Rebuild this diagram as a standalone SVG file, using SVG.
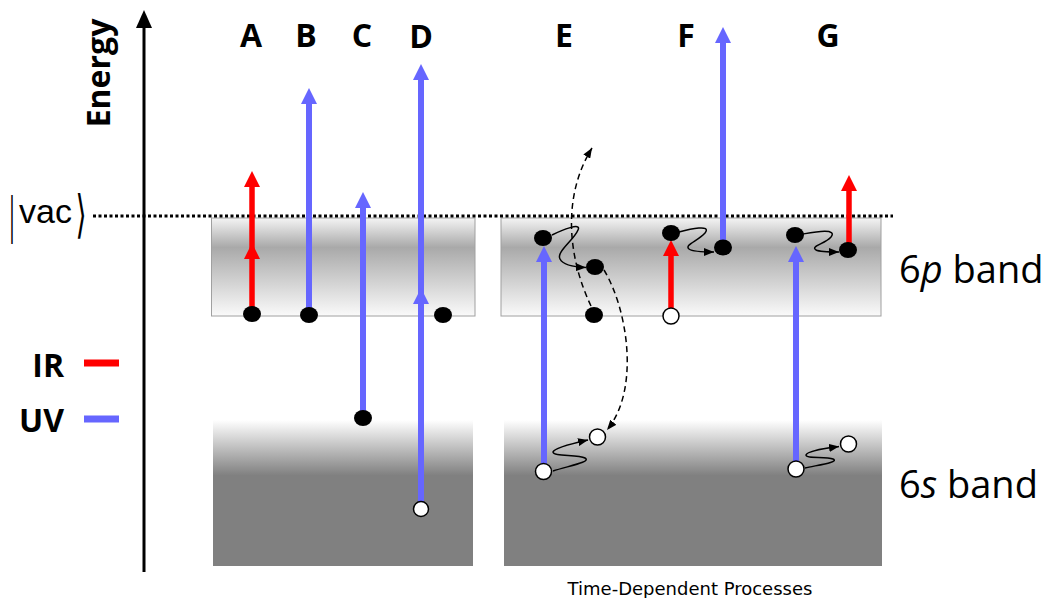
<svg xmlns="http://www.w3.org/2000/svg" width="1047" height="598" viewBox="0 0 1047 598">
  <style>
    .lbl { font-family: "Open Sans", "Liberation Sans", sans-serif; font-weight: bold; font-size: 32px; fill: #000; text-anchor: middle; }
    .band-name { font-family: "Open Sans", "Liberation Sans", sans-serif; font-size: 38px; fill: #000; }
    .ir { stroke: #ff0000; stroke-width: 5.5; fill: none; }
    .uv { stroke: #6666ff; stroke-width: 6; fill: none; }
    .full { fill: #000; }
    .hole { fill: #fff; stroke: #000; stroke-width: 1.5; }
    .relax { fill: none; stroke: #000; stroke-width: 1.5; }
    .hop { fill: none; stroke: #000; stroke-width: 1.5; stroke-dasharray: 6 4; }
  </style>
  <defs>
    <linearGradient id="pband" x1="0" y1="0" x2="0" y2="1">
      <stop offset="0" stop-color="#f4f4f4"/>
      <stop offset="0.3" stop-color="#a9a9a9"/>
      <stop offset="1" stop-color="#fafafa"/>
    </linearGradient>
    <linearGradient id="sband" x1="0" y1="0" x2="0" y2="1">
      <stop offset="0" stop-color="#ffffff"/>
      <stop offset="0.38" stop-color="#808080"/>
      <stop offset="1" stop-color="#808080"/>
    </linearGradient>
    <marker id="head-ir" viewBox="0 0 16 16" refX="0" refY="8" markerWidth="16" markerHeight="16" markerUnits="userSpaceOnUse" orient="auto">
      <path d="M0,0 L16,8 L0,16 z" fill="#ff0000"/>
    </marker>
    <marker id="head-uv" viewBox="0 0 16 16" refX="0" refY="8" markerWidth="16" markerHeight="16" markerUnits="userSpaceOnUse" orient="auto">
      <path d="M0,0 L16,8 L0,16 z" fill="#6666ff"/>
    </marker>
    <marker id="head-k" viewBox="0 0 10 8" refX="10" refY="4" markerWidth="10" markerHeight="8" markerUnits="userSpaceOnUse" orient="auto">
      <path d="M0,0 L10,4 L0,8 z" fill="#000"/>
    </marker>
  </defs>

  <rect width="1047" height="598" fill="#fff"/>

  <!-- energy bands -->
  <g id="bands">
    <rect x="211.5" y="218" width="263.5" height="98" fill="url(#pband)" stroke="#a0a0a0" stroke-width="1"/>
    <rect x="501" y="218" width="380" height="98" fill="url(#pband)" stroke="#a0a0a0" stroke-width="1"/>
    <rect x="213" y="420" width="260" height="146" fill="url(#sband)"/>
    <rect x="504" y="420" width="378" height="146" fill="url(#sband)"/>
  </g>

  <!-- vacuum level -->
  <g id="vacuum">
    <line x1="93" y1="216" x2="893" y2="216" stroke="#000" stroke-width="3" stroke-dasharray="3 2.5"/>
    <text transform="translate(12,233) scale(0.45,1.35)" font-family="Liberation Sans, sans-serif" font-size="38" text-anchor="middle">|</text>
    <text x="19" y="223" font-family="Liberation Sans, sans-serif" font-size="34">vac</text>
    <text transform="translate(81,232) scale(0.75,1.35)" font-family="DejaVu Sans, Noto Sans CJK JP, sans-serif" font-size="38" text-anchor="middle">⟩</text>
  </g>

  <!-- energy axis -->
  <g id="axis">
    <line x1="144" y1="572" x2="144" y2="26" stroke="#000" stroke-width="3"/>
    <polygon points="136,28 152,28 144,10" fill="#000"/>
    <text class="lbl" transform="translate(110,73) rotate(-90)" font-size="31">Energy</text>
  </g>

  <!-- legend -->
  <g id="legend">
    <text class="lbl" x="64" y="377" style="text-anchor:end">IR</text>
    <text class="lbl" x="64" y="432" style="text-anchor:end">UV</text>
    <line x1="84" y1="363" x2="119" y2="363" stroke="#ff0000" stroke-width="7"/>
    <line x1="84" y1="419" x2="119" y2="419" stroke="#6666ff" stroke-width="7"/>
  </g>

  <!-- band names -->
  <g id="band-labels">
    <text class="band-name" x="899" y="283">6<tspan font-style="italic">p</tspan> band</text>
    <text class="band-name" x="899" y="498">6<tspan font-style="italic">s</tspan> band</text>
  </g>

  <text x="690" y="595" font-family="DejaVu Sans, sans-serif" font-size="18" text-anchor="middle">Time-Dependent Processes</text>

  <!-- excitation and relaxation paths -->
  <g id="connectors">
    <path class="ir" d="M252,314 L252,259 L252,187" marker-mid="url(#head-ir)" marker-end="url(#head-ir)"/>
    <path class="uv" d="M309,315 L309,104" marker-end="url(#head-uv)"/>
    <path class="uv" d="M363,418 L363,208" marker-end="url(#head-uv)"/>
    <path class="uv" d="M421,509 L421,304 L421,80" marker-mid="url(#head-uv)" marker-end="url(#head-uv)"/>

    <path class="uv" d="M544,471 L544,262" marker-end="url(#head-uv)"/>
    <path class="relax" d="M552,235 C 562,230 582,222 578,230 C 574,240 556,252 560,259 C 563,265 572,267 586,267.5" marker-end="url(#head-k)"/>
    <path class="relax" d="M553,471 C 568,466 592,462 585,458 C 578,454 553,457 553,452 C 554,448 570,444 588,440" marker-end="url(#head-k)"/>
    <path class="hop" d="M591,306 C 570,262 560,200 592,148" marker-end="url(#head-k)"/>
    <path class="hop" d="M604,270 C 628,310 640,390 607,430" marker-end="url(#head-k)"/>

    <path class="ir" d="M671,316 L671,256" marker-end="url(#head-ir)"/>
    <path class="relax" d="M679,232 C 690,229 712,224 705,233 C 698,241 684,245 689,249 C 693,252 703,252 714,252" marker-end="url(#head-k)"/>
    <path class="uv" d="M723,247 L723,43" marker-end="url(#head-uv)"/>

    <path class="uv" d="M796,469 L796,262" marker-end="url(#head-uv)"/>
    <path class="relax" d="M803,234 C 815,232 838,228 831,237 C 825,244 810,246 816,250 C 820,252 830,252 839,252" marker-end="url(#head-k)"/>
    <path class="ir" d="M849,250 L849,191" marker-end="url(#head-ir)"/>
    <path class="relax" d="M805,468 C 818,465 840,462 833,459 C 826,456 806,459 806,455 C 807,451 822,449 839,446.5" marker-end="url(#head-k)"/>
  </g>

  <!-- process A -->
  <g id="proc-A">
    <text class="lbl" x="251" y="47">A</text>
    <ellipse class="full" cx="252" cy="314" rx="9" ry="8"/>
  </g>
  <!-- process B -->
  <g id="proc-B">
    <text class="lbl" x="306" y="47">B</text>
    <ellipse class="full" cx="309" cy="315" rx="9" ry="8"/>
  </g>
  <!-- process C -->
  <g id="proc-C">
    <text class="lbl" x="362" y="47">C</text>
    <ellipse class="full" cx="363" cy="418" rx="9" ry="8"/>
  </g>
  <!-- process D -->
  <g id="proc-D">
    <text class="lbl" x="421" y="48">D</text>
    <ellipse class="full" cx="443" cy="315" rx="9" ry="8"/>
    <circle class="hole" cx="421" cy="509" r="7.5"/>
  </g>
  <!-- process E -->
  <g id="proc-E">
    <text class="lbl" x="564" y="47">E</text>
    <ellipse class="full" cx="543" cy="238" rx="9" ry="8"/>
    <ellipse class="full" cx="595" cy="267" rx="9" ry="8"/>
    <ellipse class="full" cx="594" cy="315" rx="9" ry="8"/>
    <circle class="hole" cx="543.5" cy="471.5" r="8"/>
    <circle class="hole" cx="597.5" cy="437" r="8"/>
  </g>
  <!-- process F -->
  <g id="proc-F">
    <text class="lbl" x="686" y="47">F</text>
    <ellipse class="full" cx="671" cy="233" rx="9" ry="8"/>
    <ellipse class="full" cx="723" cy="247.5" rx="9" ry="8"/>
    <circle class="hole" cx="671" cy="316" r="8"/>
  </g>
  <!-- process G -->
  <g id="proc-G">
    <text class="lbl" x="828" y="47">G</text>
    <ellipse class="full" cx="795" cy="235" rx="9" ry="8"/>
    <ellipse class="full" cx="848" cy="250" rx="9" ry="8"/>
    <circle class="hole" cx="796" cy="469" r="8"/>
    <circle class="hole" cx="848.5" cy="444" r="8"/>
  </g>
</svg>
